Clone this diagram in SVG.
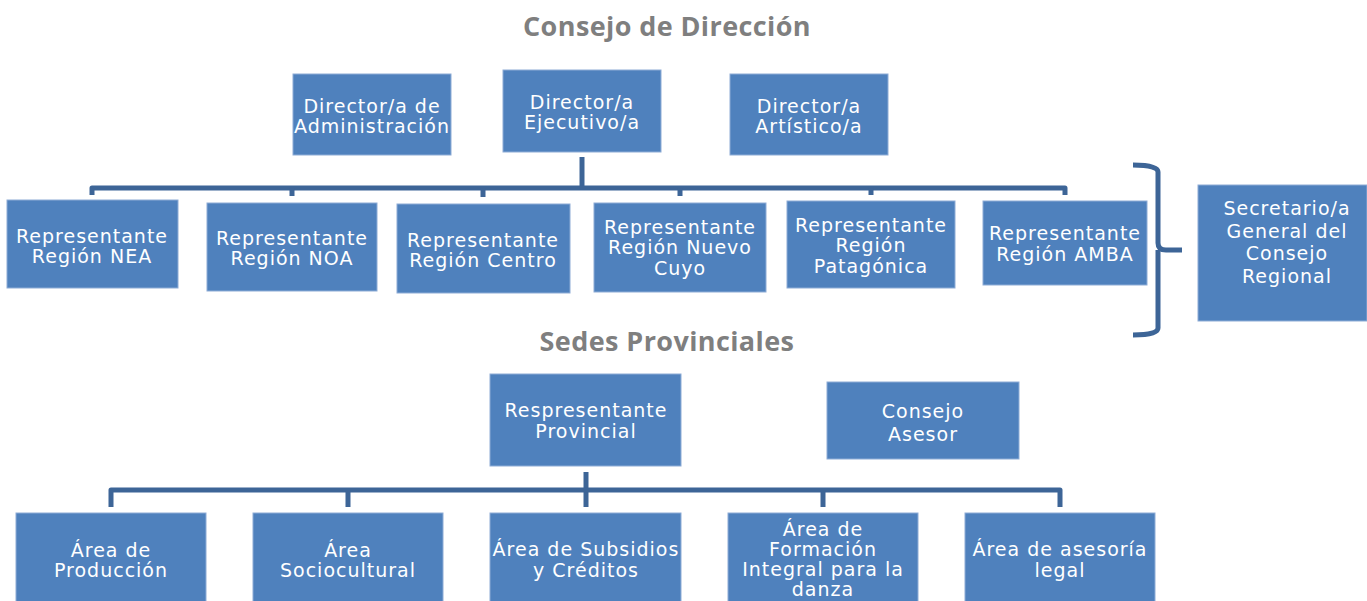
<svg xmlns="http://www.w3.org/2000/svg" width="1367" height="601" viewBox="0 0 1367 601">
<style>
.box{fill:#4f81bd;stroke:#8eacd6;stroke-width:1}
.t{font-family:"DejaVu Sans",sans-serif;font-size:19px;letter-spacing:1px;fill:#ffffff;text-anchor:middle}
.title{font-family:"Open Sans","Liberation Sans",sans-serif;font-weight:bold;font-size:27px;letter-spacing:0.4px;fill:#7f7f7f;text-anchor:middle}
.c{fill:none;stroke:#3d6597;stroke-width:5;stroke-linejoin:round}
</style>
<rect width="1367" height="601" fill="#ffffff"/>
<text class="title" x="667" y="36">Consejo de Dirección</text>
<text class="title" x="667" y="351">Sedes Provinciales</text>
<g id="connectors">
<path class="c" d="M582 157 V188"/>
<path class="c" d="M92 195 V188 H1065 V195"/>
<path class="c" d="M292 188 V196 M483 188 V197 M680 188 V196 M871 188 V195"/>
<path class="c" d="M1133 165 Q1158 165 1158 172 V243 Q1158 250 1166 250 H1182 M1158 250 Q1158 257 1158 262 V328 Q1158 335 1133 335"/>
<path class="c" d="M586 472 V507"/>
<path class="c" d="M111 507 V490 H1060 V507"/>
<path class="c" d="M348 490 V507 M823 490 V507"/>
</g>
<g id="n-admin"><rect class="box" x="293" y="74" width="158" height="81"/><text class="t" x="372" y="113">Director/a de</text><text class="t" x="372" y="133">Administración</text></g>
<g id="n-ejecutivo"><rect class="box" x="503" y="70" width="158" height="82"/><text class="t" x="582" y="109">Director/a</text><text class="t" x="582" y="129">Ejecutivo/a</text></g>
<g id="n-artistico"><rect class="box" x="730" y="74" width="158" height="81"/><text class="t" x="809" y="113">Director/a</text><text class="t" x="809" y="133">Artístico/a</text></g>
<g id="n-nea"><rect class="box" x="7" y="200" width="171" height="88"/><text class="t" x="92" y="243">Representante</text><text class="t" x="92" y="263">Región NEA</text></g>
<g id="n-noa"><rect class="box" x="207" y="203" width="170" height="88"/><text class="t" x="292" y="245">Representante</text><text class="t" x="292" y="265">Región NOA</text></g>
<g id="n-centro"><rect class="box" x="397" y="204" width="173" height="89"/><text class="t" x="483" y="247">Representante</text><text class="t" x="483" y="267">Región Centro</text></g>
<g id="n-cuyo"><rect class="box" x="594" y="203" width="172" height="89"/><text class="t" x="680" y="234">Representante</text><text class="t" x="680" y="254">Región Nuevo</text><text class="t" x="680" y="275">Cuyo</text></g>
<g id="n-patagonica"><rect class="box" x="787" y="201" width="168" height="87"/><text class="t" x="871" y="232">Representante</text><text class="t" x="871" y="252">Región</text><text class="t" x="871" y="273">Patagónica</text></g>
<g id="n-amba"><rect class="box" x="983" y="201" width="164" height="84"/><text class="t" x="1065" y="240">Representante</text><text class="t" x="1065" y="261">Región AMBA</text></g>
<g id="n-secretario"><rect class="box" x="1198" y="185" width="169" height="136"/><text class="t" x="1287" y="215">Secretario/a</text><text class="t" x="1287" y="238">General del</text><text class="t" x="1287" y="260">Consejo</text><text class="t" x="1287" y="283">Regional</text></g>
<g id="n-provincial"><rect class="box" x="490" y="374" width="191" height="92"/><text class="t" x="586" y="417">Respresentante</text><text class="t" x="586" y="438">Provincial</text></g>
<g id="n-asesor"><rect class="box" x="827" y="382" width="192" height="77"/><text class="t" x="923" y="418">Consejo</text><text class="t" x="923" y="441">Asesor</text></g>
<g id="n-produccion"><rect class="box" x="16" y="513" width="190" height="90"/><text class="t" x="111" y="557">Área de</text><text class="t" x="111" y="577">Producción</text></g>
<g id="n-sociocultural"><rect class="box" x="253" y="513" width="190" height="90"/><text class="t" x="348" y="557">Área</text><text class="t" x="348" y="577">Sociocultural</text></g>
<g id="n-subsidios"><rect class="box" x="490" y="513" width="191" height="90"/><text class="t" x="586" y="556">Área de Subsidios</text><text class="t" x="586" y="577">y Créditos</text></g>
<g id="n-formacion"><rect class="box" x="728" y="513" width="190" height="90"/><text class="t" x="823" y="536">Área de</text><text class="t" x="823" y="556">Formación</text><text class="t" x="823" y="576">Integral para la</text><text class="t" x="823" y="596">danza</text></g>
<g id="n-legal"><rect class="box" x="965" y="513" width="190" height="90"/><text class="t" x="1060" y="556">Área de asesoría</text><text class="t" x="1060" y="577">legal</text></g>
</svg>
